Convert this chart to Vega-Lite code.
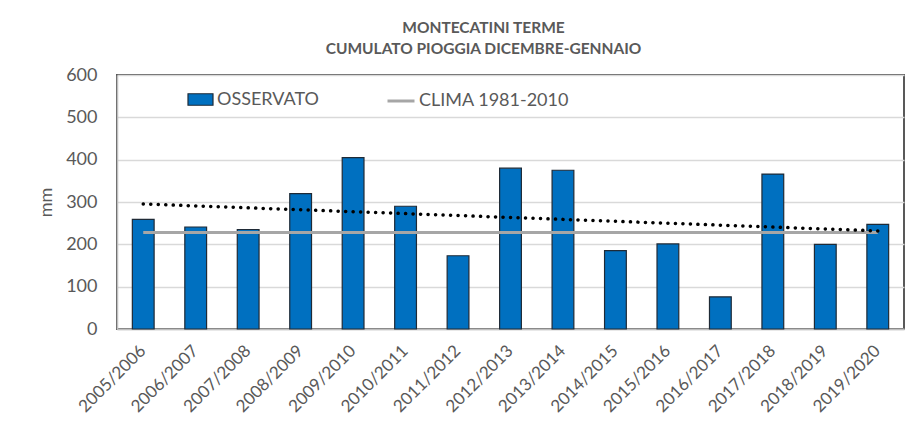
{
  "$schema": "https://vega.github.io/schema/vega-lite/v6.json",
  "autosize": "none",
  "padding": {"left": 117, "top": 75, "right": 1, "bottom": 107},
  "width": 787,
  "height": 254,
  "background": "white",
  "config": {
    "font": "Lato",
    "view": {"stroke": "#595959", "strokeWidth": 2},
    "axis": {"labelFont": "Lato", "titleFont": "Lato"},
    "legend": {"labelFont": "Lato"}
  },
  "title": {
    "text": ["MONTECATINI TERME", "CUMULATO PIOGGIA DICEMBRE-GENNAIO"],
    "anchor": "middle",
    "frame": "group",
    "dx": -27,
    "offset": 9,
    "font": "Lato",
    "fontSize": 15.5,
    "fontWeight": "bold",
    "color": "#595959",
    "lineHeight": 21
  },
  "datasets": {
    "seasons": [
      {"stagione": "2005/2006", "osservato": 259, "clima": 228},
      {"stagione": "2006/2007", "osservato": 241, "clima": 228},
      {"stagione": "2007/2008", "osservato": 235, "clima": 228},
      {"stagione": "2008/2009", "osservato": 320, "clima": 228},
      {"stagione": "2009/2010", "osservato": 405, "clima": 228},
      {"stagione": "2010/2011", "osservato": 290, "clima": 228},
      {"stagione": "2011/2012", "osservato": 173, "clima": 228},
      {"stagione": "2012/2013", "osservato": 380, "clima": 228},
      {"stagione": "2013/2014", "osservato": 375, "clima": 228},
      {"stagione": "2014/2015", "osservato": 185, "clima": 228},
      {"stagione": "2015/2016", "osservato": 201, "clima": 228},
      {"stagione": "2016/2017", "osservato": 76, "clima": 228},
      {"stagione": "2017/2018", "osservato": 366, "clima": 228},
      {"stagione": "2018/2019", "osservato": 200, "clima": 228},
      {"stagione": "2019/2020", "osservato": 247, "clima": 228}
    ],
    "trend": [
      {"stagione": "2005/2006", "tendenza": 295.3},
      {"stagione": "2019/2020", "tendenza": 231.7}
    ]
  },
  "encoding": {
    "x": {
      "field": "stagione",
      "type": "ordinal",
      "sort": null,
      "scale": {"paddingInner": 0.585, "paddingOuter": 0.2925},
      "axis": {
        "title": null,
        "labelAngle": -45,
        "labelAlign": "right",
        "labelBaseline": "middle",
        "labelFontSize": 17,
        "labelColor": "#595959",
        "labelPadding": 19,
        "ticks": false,
        "domainColor": "#BFBFBF",
        "domainWidth": 1.5,
        "grid": false
      }
    }
  },
  "layer": [
    {
      "data": {"name": "seasons"},
      "mark": {"type": "bar", "stroke": "#1f2a36", "strokeWidth": 1.2},
      "encoding": {
        "y": {
          "field": "osservato",
          "type": "quantitative",
          "scale": {"domain": [0, 600], "nice": false},
          "axis": {
            "title": "mm",
            "titleFontSize": 18,
            "titleFontWeight": "normal",
            "titleColor": "#595959",
            "titlePadding": 10,
            "values": [0, 100, 200, 300, 400, 500, 600],
            "labelFontSize": 18,
            "labelColor": "#595959",
            "labelPadding": 20,
            "ticks": false,
            "domainColor": "#BFBFBF",
            "domainWidth": 1.5,
            "gridColor": "#D9D9D9",
            "gridWidth": 1.5
          }
        },
        "fill": {
          "datum": "OSSERVATO",
          "scale": {"domain": ["OSSERVATO"], "range": ["#0070C0"]},
          "legend": {
            "title": null,
            "orient": "none",
            "legendX": 70,
            "legendY": 11,
            "padding": 0,
            "symbolType": "M-1,-0.46H1V0.46H-1Z",
            "symbolSize": 625,
            "symbolFillColor": "#0070C0",
            "symbolStrokeColor": "#1f2a36",
            "symbolStrokeWidth": 1.2,
            "symbolOffset": 0,
            "labelOffset": 3,
            "labelFontSize": 18,
            "labelColor": "#595959"
          }
        }
      }
    },
    {
      "data": {"name": "seasons"},
      "mark": {"type": "line", "strokeWidth": 3},
      "encoding": {
        "y": {"field": "clima", "type": "quantitative"},
        "stroke": {
          "datum": "CLIMA 1981-2010",
          "scale": {"domain": ["CLIMA 1981-2010"], "range": ["#A6A6A6"]},
          "legend": {
            "title": null,
            "orient": "none",
            "legendX": 269,
            "legendY": 11,
            "padding": 0,
            "symbolType": "stroke",
            "symbolSize": 729,
            "symbolStrokeWidth": 3,
            "symbolStrokeColor": "#A6A6A6",
            "labelOffset": 3,
            "labelFontSize": 18,
            "labelColor": "#595959"
          }
        }
      }
    },
    {
      "data": {"name": "trend"},
      "mark": {"type": "line", "color": "#000000", "strokeWidth": 3.5, "strokeDash": [0.1, 7.4], "strokeCap": "round"},
      "encoding": {
        "y": {"field": "tendenza", "type": "quantitative"}
      }
    }
  ]
}
